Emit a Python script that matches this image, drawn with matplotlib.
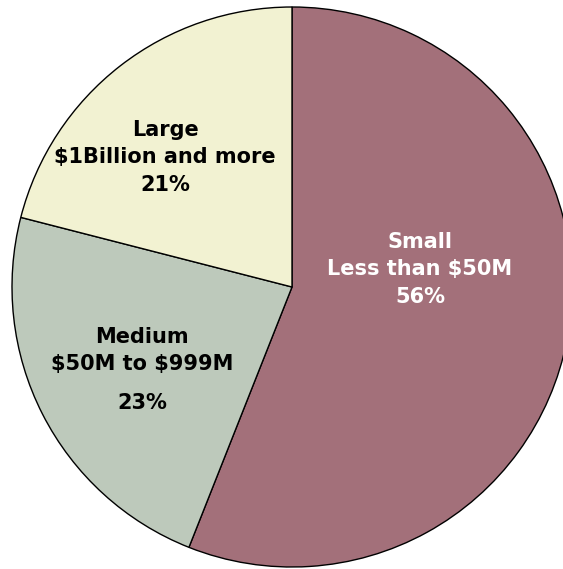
import matplotlib.pyplot as plt

plt.rcParams['text.parse_math'] = False

# slice data, starting at 12 o'clock and going clockwise
categories = ['Small', 'Medium', 'Large']
ranges = ['Less than $50M', '$50M to $999M', '$1Billion and more']
shares = [56, 23, 21]
colors = ['#A3707A', '#BDC9BB', '#F2F2D2']
text_colors = ['white', 'black', 'black']

fig = plt.figure(figsize=(5.63, 5.69), dpi=100)
ax = fig.add_axes([0, 0, 1, 1])

ax.pie(shares, colors=colors, startangle=90, counterclock=False,
       radius=1.0, center=(0, 0),
       wedgeprops=dict(edgecolor='black', linewidth=1.0))

# pixel scale: radius of 280 px, centre at (292, 287) px
r_px = 280.0
ax.set_xlim(-292 / r_px, (563 - 292) / r_px)
ax.set_ylim(-(569 - 287) / r_px, 287 / r_px)
ax.set_aspect('auto')
ax.axis('off')

# label positions in pixels: x centre, baselines of the three lines
label_x = [420, 142, 165]
baselines = [(248, 275, 303), (343, 370, 409), (136, 163, 191)]

for i in range(len(shares)):
    x = (label_x[i] - 292) / r_px
    lines = [categories[i], ranges[i], f'{shares[i]}%']
    for line, b in zip(lines, baselines[i]):
        y = (287 - b) / r_px
        ax.text(x, y, line, ha='center', va='baseline', fontsize=15,
                fontweight='bold', color=text_colors[i], family='DejaVu Sans')

fig.savefig('out.png', dpi=100)
